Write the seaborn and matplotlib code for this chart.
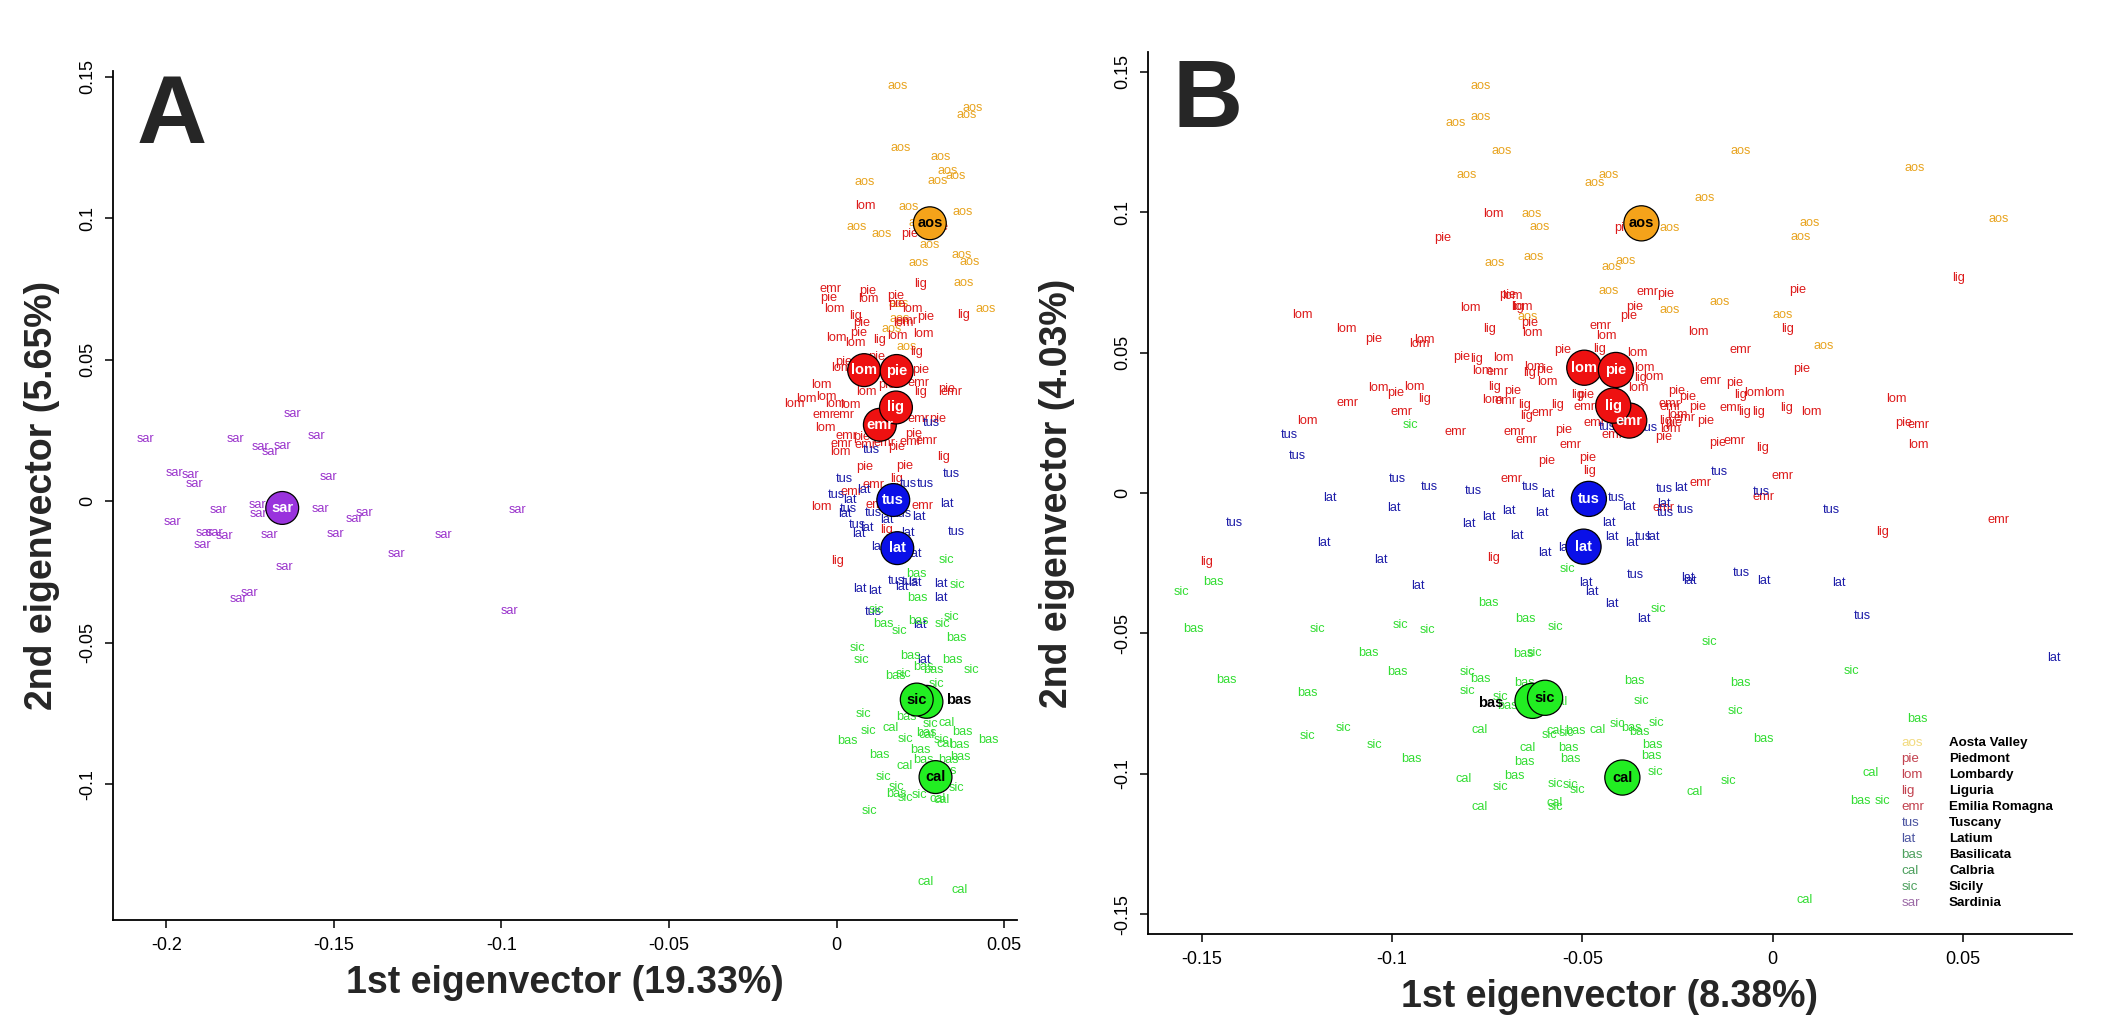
import pandas as pd
import matplotlib
matplotlib.use("Agg")
import matplotlib.pyplot as plt
from matplotlib import font_manager
import seaborn as sns

# region codes, legend names
codes = ["aos", "pie", "lom", "lig", "emr", "tus", "lat", "bas", "cal", "sic", "sar"]
names = ["Aosta Valley", "Piedmont", "Lombardy", "Liguria", "Emilia Romagna", "Tuscany",
         "Latium", "Basilicata", "Calbria", "Sicily", "Sardinia"]

# ---- panel A: individual samples (PC1, PC2) ----
A_AOS = [(0.0181, 0.1467), (0.0405, 0.139), (0.0389, 0.1366), (0.0192, 0.1247), (0.0309, 0.1216),
         (0.0331, 0.1167), (0.0354, 0.115), (0.0301, 0.1133), (0.0085, 0.1128), (0.0216, 0.104),
         (0.0375, 0.1022), (0.0061, 0.097), (0.0135, 0.0943), (0.0278, 0.0905), (0.0246, 0.0842),
         (0.0372, 0.0869), (0.0397, 0.0846), (0.038, 0.0771), (0.0445, 0.0679), (0.0189, 0.0645),
         (0.0164, 0.061), (0.0209, 0.0543), (0.0184, 0.0696), (0.0244, 0.0982)]
A_PIE = [(0.0217, 0.0943), (0.0308, 0.097), (-0.0025, 0.0719), (0.0094, 0.0744), (0.0175, 0.0726),
         (0.0179, 0.0697), (0.0266, 0.065), (0.0076, 0.0628), (0.0067, 0.0593), (0.002, 0.0493),
         (0.0121, 0.051), (0.0252, 0.0463), (0.0328, 0.0398), (0.0149, 0.041), (0.0075, 0.0227),
         (0.0229, 0.0237), (0.0303, 0.0289), (0.0179, 0.0192), (0.0083, 0.0121), (0.0204, 0.0124)]
A_LOM = [(0.0085, 0.1044), (0.0094, 0.0715), (0.0225, 0.068), (-0.0008, 0.068), (0.0, 0.0575),
         (0.0055, 0.0558), (0.0181, 0.0585), (0.026, 0.059), (0.0015, 0.047), (-0.0045, 0.041),
         (-0.003, 0.0369), (0.009, 0.0387), (0.0199, 0.0628), (-0.0089, 0.036), (-0.0005, 0.0345),
         (0.004, 0.034), (-0.0035, 0.026), (0.001, 0.0174), (-0.0045, -0.0022), (-0.0125, 0.0345)]
A_LIG = [(0.025, 0.0768), (0.0056, 0.0655), (0.0378, 0.0657), (0.0127, 0.0569), (0.0239, 0.0528),
         (0.0249, 0.0387), (0.032, 0.0157), (0.018, 0.008), (0.0149, -0.0103), (0.0002, -0.0212)]
A_EMR = [(-0.0018, 0.075), (0.0209, 0.0635), (0.0244, 0.0416), (0.0343, 0.0387), (0.002, 0.0304),
         (0.003, 0.0231), (0.0015, 0.0202), (0.0085, 0.0198), (0.0144, 0.0204), (0.0219, 0.021),
         (0.0268, 0.0213), (0.0243, 0.0289), (0.0109, 0.0057), (0.0045, 0.0033), (0.0257, -0.0018),
         (0.0119, -0.0014), (-0.004, 0.0305)]
A_TUS = [(0.0283, 0.0277), (0.0104, 0.018), (0.0341, 0.0095), (0.0022, 0.0078), (0.0266, 0.0062),
         (0.0214, 0.0062), (0.0, 0.0021), (0.0035, -0.0028), (0.0109, -0.0041), (0.0199, -0.0044),
         (0.0062, -0.0085), (0.0358, -0.011), (0.0179, -0.0283), (0.0219, -0.0285), (0.0109, -0.0391)]
A_LAT = [(0.008, 0.0041), (0.004, 0.0004), (0.0328, -0.0011), (0.0025, -0.0044), (0.0149, -0.0065),
         (0.0244, -0.0055), (0.0089, -0.0096), (0.0065, -0.0117), (0.0214, -0.0112), (0.0124, -0.0161),
         (0.0234, -0.0185), (0.0234, -0.0289), (0.0194, -0.0305), (0.007, -0.0311), (0.0115, -0.0317),
         (0.0311, -0.0291), (0.0311, -0.0342), (0.0249, -0.0438), (0.026, -0.056)]
A_BAS = [(0.0239, -0.0256), (0.0242, -0.0342), (0.0139, -0.0435), (0.0244, -0.0424), (0.0356, -0.0483),
         (0.0219, -0.0547), (0.0345, -0.056), (0.0259, -0.0586), (0.0288, -0.0598), (0.0174, -0.0619),
         (0.0209, -0.0763), (0.0376, -0.0816), (0.0452, -0.0845), (0.0032, -0.0847), (0.0267, -0.082),
         (0.0366, -0.086), (0.0249, -0.0881), (0.0127, -0.0897), (0.0259, -0.0914), (0.0333, -0.0914),
         (0.0368, -0.0904), (0.0328, -0.0954), (0.0179, -0.1034)]
A_CAL = [(0.0161, -0.0801), (0.0328, -0.0784), (0.0267, -0.0827), (0.0322, -0.0857), (0.0202, -0.0937),
         (0.03, -0.1051), (0.0313, -0.1057), (0.0265, -0.1344), (0.0368, -0.1375)]
A_SIC = [(0.0328, -0.0209), (0.036, -0.0295), (0.0119, -0.0385), (0.0343, -0.0411), (0.0316, -0.0433),
         (0.0187, -0.0459), (0.0062, -0.0519), (0.0075, -0.056), (0.0403, -0.0598), (0.0199, -0.0609),
         (0.0298, -0.0645), (0.008, -0.0753), (0.0094, -0.0813), (0.028, -0.0789), (0.0206, -0.0841),
         (0.0313, -0.0845), (0.0139, -0.0975), (0.0179, -0.101), (0.0204, -0.1048), (0.0246, -0.1037),
         (0.0358, -0.1013), (0.0097, -0.1095)]
A_SAR = [(-0.1623, 0.0308), (-0.2061, 0.0219), (-0.1794, 0.0219), (-0.1551, 0.0231), (-0.1718, 0.0192),
         (-0.1653, 0.0196), (-0.169, 0.0172), (-0.1516, 0.0085), (-0.1977, 0.01), (-0.1929, 0.0092),
         (-0.1916, 0.006), (-0.1845, -0.0032), (-0.1727, -0.0014), (-0.1725, -0.0046), (-0.154, -0.0028),
         (-0.1409, -0.0041), (-0.144, -0.0062), (-0.0953, -0.0032), (-0.1982, -0.0075), (-0.1885, -0.0114),
         (-0.1855, -0.0114), (-0.1825, -0.0124), (-0.1892, -0.0156), (-0.1691, -0.012), (-0.1495, -0.0117),
         (-0.1172, -0.012), (-0.1314, -0.0187), (-0.1648, -0.0232), (-0.1752, -0.0323), (-0.1785, -0.0347),
         (-0.0977, -0.0389)]

# panel A: region centroids (order = drawing order)
a_cent_code = ["aos", "emr", "lom", "pie", "lig", "tus", "lat", "bas", "sic", "cal", "sar"]
a_cent_x = [0.0278, 0.0129, 0.0082, 0.0179, 0.0177, 0.0169, 0.0181, 0.0268, 0.0239, 0.0295, -0.1654]
a_cent_y = [0.0982, 0.027, 0.0463, 0.046, 0.0331, 0.0004, -0.0166, -0.0709, -0.0701, -0.0975, -0.0024]
a_bas_label = (0.0363, -0.0704)

# ---- panel B: individual samples ----
B_AOS = [(-0.0766, 0.1449), (-0.0832, 0.1316), (-0.0768, 0.1337), (-0.0712, 0.1218), (-0.0085, 0.1218),
         (0.0372, 0.1156), (0.0594, 0.0974), (-0.0804, 0.1132), (-0.0432, 0.1132), (-0.0469, 0.1105),
         (-0.0178, 0.1051), (-0.0633, 0.0992), (-0.0612, 0.0948), (-0.0272, 0.0945), (0.0097, 0.096),
         (0.0074, 0.0913), (-0.073, 0.082), (-0.0627, 0.0841), (-0.0423, 0.0806), (-0.0386, 0.0827),
         (-0.0432, 0.0719), (-0.0139, 0.0681), (-0.0272, 0.0651), (-0.0644, 0.0628), (0.0026, 0.0634),
         (0.0135, 0.0525)]
B_PIE = [(-0.0866, 0.0909), (-0.0395, 0.0942), (-0.0281, 0.0708), (0.0065, 0.0723), (-0.0697, 0.0705),
         (-0.0362, 0.0663), (-0.0377, 0.0631), (-0.0638, 0.0604), (-0.0817, 0.0485), (-0.0552, 0.0509),
         (-0.06, 0.0438), (0.0077, 0.0441), (-0.0101, 0.0393), (-0.0252, 0.0363), (-0.0224, 0.0341),
         (-0.0196, 0.0307), (-0.0259, 0.0248), (-0.0176, 0.0258), (-0.0287, 0.0201), (-0.0145, 0.0177),
         (-0.099, 0.0355), (-0.0682, 0.0364), (-0.0491, 0.0349), (-0.0548, 0.0224), (-0.0593, 0.0114),
         (-0.0487, 0.0126), (-0.1047, 0.0548), (0.0343, 0.0248)]
B_LOM = [(-0.0733, 0.0992), (-0.0684, 0.0701), (-0.0793, 0.0657), (-0.0657, 0.0661), (-0.0631, 0.0571),
         (-0.0438, 0.056), (-0.0195, 0.0574), (-0.0914, 0.0545), (-0.0929, 0.0529), (-0.0708, 0.0482),
         (-0.0355, 0.05), (-0.0627, 0.045), (-0.0762, 0.0434), (-0.0592, 0.0396), (-0.0338, 0.0444),
         (-0.0313, 0.0414), (-0.0353, 0.0375), (-0.0049, 0.0357), (0.0004, 0.0357), (0.0102, 0.029),
         (-0.025, 0.0278), (-0.0268, 0.0227), (-0.0942, 0.0379), (-0.1035, 0.0375), (-0.0736, 0.0331),
         (-0.1236, 0.0634), (-0.1119, 0.0584), (-0.1223, 0.0257), (0.0326, 0.0335), (0.0382, 0.0171)]
B_LIG = [(-0.067, 0.0663), (-0.0743, 0.0584), (0.004, 0.0584), (-0.0777, 0.0477), (-0.0456, 0.0513),
         (-0.064, 0.0428), (-0.0346, 0.0408), (-0.0084, 0.0348), (0.0037, 0.0301), (-0.0075, 0.029),
         (-0.0036, 0.029), (-0.0281, 0.0258), (-0.0028, 0.0161), (-0.0914, 0.0333), (-0.0732, 0.0379),
         (-0.0653, 0.0313), (-0.0647, 0.0275), (-0.0565, 0.0313), (-0.0513, 0.0349), (-0.0482, 0.008),
         (0.0487, 0.0764), (-0.1486, -0.0244), (-0.0733, -0.0233), (0.0289, -0.0139)]
B_EMR = [(-0.0329, 0.0717), (-0.0453, 0.0596), (-0.0084, 0.0509), (-0.0723, 0.0432), (-0.0164, 0.04),
         (-0.011, 0.0301), (-0.0272, 0.0316), (-0.0268, 0.0307), (-0.0231, 0.0266), (-0.0101, 0.0185),
         (0.0026, 0.0061), (-0.0189, 0.0037), (-0.0974, 0.029), (-0.0701, 0.0329), (-0.0605, 0.0284),
         (-0.0495, 0.0307), (-0.0832, 0.0218), (-0.0679, 0.0218), (-0.0647, 0.0189), (-0.053, 0.0171),
         (-0.0469, 0.0248), (-0.0421, 0.0206), (-0.0686, 0.0049), (-0.0024, -0.0015), (-0.1116, 0.0319),
         (0.0382, 0.0242), (-0.0288, -0.0055), (0.0594, -0.0096)]
B_TUS = [(-0.0434, 0.0236), (-0.0325, 0.0233), (-0.0987, 0.0049), (-0.0901, 0.0023), (-0.0786, 0.0008),
         (-0.0636, 0.0023), (-0.0139, 0.0076), (-0.0285, 0.0013), (-0.003, 0.0005), (-0.1271, 0.0206),
         (-0.125, 0.0132), (-0.0411, -0.0019), (-0.0283, -0.0072), (-0.0229, -0.0061), (-0.1413, -0.0108),
         (-0.0341, -0.0155), (-0.0361, -0.0292), (-0.0082, -0.0286), (0.0155, -0.0062), (0.0235, -0.0437)]
B_LAT = [(-0.059, -0.0005), (-0.0241, 0.0019), (-0.1164, -0.0019), (-0.0377, -0.0049), (-0.0285, -0.0039),
         (-0.0996, -0.0052), (-0.0692, -0.0063), (-0.0746, -0.0087), (-0.0797, -0.0112), (-0.0606, -0.0072),
         (-0.0431, -0.0106), (-0.1178, -0.0177), (-0.0672, -0.0152), (-0.0422, -0.0155), (-0.0371, -0.0177),
         (-0.0315, -0.0155), (-0.0545, -0.0197), (-0.0599, -0.0215), (-0.103, -0.0239), (-0.0931, -0.0331),
         (-0.0492, -0.0319), (-0.0476, -0.0351), (-0.0224, -0.0301), (-0.0218, -0.0312), (-0.0023, -0.0312),
         (-0.0422, -0.0395), (-0.0338, -0.045), (0.0738, -0.0588), (0.0174, -0.032)]
B_BAS = [(-0.147, -0.0316), (-0.0747, -0.039), (-0.065, -0.0449), (-0.1521, -0.0484), (-0.1062, -0.0568),
         (-0.0656, -0.0574), (-0.1435, -0.0666), (-0.0986, -0.0638), (-0.0768, -0.0662), (-0.1221, -0.0713),
         (-0.0363, -0.0668), (-0.0084, -0.0675), (-0.0697, -0.0758), (-0.0652, -0.0678), (-0.095, -0.0947),
         (-0.0518, -0.0846), (-0.037, -0.0838), (-0.0349, -0.085), (-0.0025, -0.0877), (-0.0538, -0.0907),
         (-0.0652, -0.0956), (-0.0532, -0.0948), (-0.0317, -0.0897), (-0.032, -0.0936), (-0.0679, -0.1006),
         (0.0379, -0.0803), (0.0231, -0.1095)]
B_CAL = [(-0.0561, -0.0743), (-0.0769, -0.0844), (-0.0572, -0.0846), (-0.0459, -0.0844), (-0.0645, -0.0907),
         (-0.0811, -0.1019), (-0.0206, -0.1063), (-0.077, -0.1117), (-0.0574, -0.1102), (0.0257, -0.0998),
         (0.0084, -0.145)]
B_SIC = [(-0.0952, 0.0242), (-0.0538, -0.0272), (-0.1553, -0.0351), (-0.057, -0.0476), (-0.0301, -0.0413),
         (-0.1196, -0.0484), (-0.0977, -0.047), (-0.0907, -0.0488), (-0.0167, -0.0532), (-0.0626, -0.0571),
         (-0.0803, -0.0639), (-0.0803, -0.0704), (-0.0345, -0.074), (-0.0098, -0.0775), (-0.0715, -0.0725),
         (-0.1127, -0.0838), (-0.1223, -0.0865), (-0.1046, -0.0897), (-0.0586, -0.0862), (-0.0543, -0.0853),
         (-0.0409, -0.0824), (-0.0306, -0.0818), (-0.0309, -0.0992), (-0.0715, -0.1045), (-0.0572, -0.1036),
         (-0.0531, -0.1039), (-0.0513, -0.1057), (-0.0117, -0.1025), (-0.057, -0.1119), (0.0206, -0.0633),
         (0.0288, -0.1095)]
B_SAR = []

b_cent_code = ["aos", "emr", "lom", "pie", "lig", "tus", "lat", "bas", "sic", "cal"]
b_cent_x = [-0.0345, -0.0377, -0.0495, -0.0412, -0.0419, -0.0483, -0.0497, -0.0631, -0.0598, -0.0395]
b_cent_y = [0.096, 0.0258, 0.0446, 0.0438, 0.0311, -0.0021, -0.0191, -0.074, -0.0729, -0.1013]
b_bas_label = (-0.074, -0.0746)

pct_a = ("19.33%", "5.65%")
pct_b = ("8.38%", "4.03%")

# colours
red, blue, green = "#DD1A1A", "#1C1CA8", "#33DD33"
label_col = {"aos": "#E8A420", "pie": red, "lom": red, "lig": red, "emr": red,
             "tus": blue, "lat": blue, "bas": green, "cal": green, "sic": green, "sar": "#9A33CC"}
circle_col = {"aos": "#F5A31A", "pie": "#EE1111", "lom": "#EE1111", "lig": "#EE1111", "emr": "#EE1111",
              "tus": "#0A10E8", "lat": "#0A10E8", "bas": "#22EE22", "cal": "#22EE22", "sic": "#22EE22",
              "sar": "#9933DD"}
circle_txt = {c: ("black" if c in ("aos", "bas", "cal", "sic") else "white") for c in codes}
legend_col = {"aos": "#F2DA7E", "pie": "#C2424F", "lom": "#C2424F", "lig": "#C2424F", "emr": "#C2424F",
              "tus": "#4B54A0", "lat": "#4B54A0", "bas": "#4DA05E", "cal": "#4DA05E", "sic": "#4DA05E",
              "sar": "#9C6BA6"}

sns.set_style("ticks")
plt.rcParams["font.family"] = ["Liberation Sans", "DejaVu Sans"]

avail = {f.name for f in font_manager.fontManager.ttflist}
narrow = "Liberation Sans Narrow" in avail
axis_family = ["Liberation Sans Narrow", "Liberation Sans", "DejaVu Sans"] if narrow else ["Liberation Sans", "DejaVu Sans"]
tick_fs = 16 if narrow else 13
lab_fs = 33 if narrow else 27


def to_frame(groups):
    rows = []
    for code, pts in groups:
        for x, y in pts:
            rows.append((code, x, y))
    return pd.DataFrame(rows, columns=["code", "x", "y"])


def draw_panel(ax, df, cent, bas_label, pct, letter, xlim, ylim, xticks, yticks, csize, ylabpad):
    for r in df.itertuples():
        ax.text(r.x, r.y, r.code, color=label_col[r.code], fontsize=9.2,
                ha="center", va="center", zorder=2)
    sns.scatterplot(data=cent, x="x", y="y", hue="code", palette=circle_col, s=csize,
                    edgecolor="black", linewidth=0.9, legend=False, ax=ax, zorder=3)
    for r in cent.itertuples():
        if r.code == "bas":
            continue
        ax.text(r.x, r.y, r.code, color=circle_txt[r.code], fontsize=10.5, weight="bold",
                ha="center", va="center", zorder=4)
    ax.text(bas_label[0], bas_label[1], "bas", color="black", fontsize=10.5, weight="bold",
            ha="center", va="center", zorder=4)

    ax.set_xlim(*xlim)
    ax.set_ylim(*ylim)
    ax.set_xticks(xticks)
    ax.set_xticklabels([("%g" % t) for t in xticks])
    ax.set_yticks(yticks)
    ax.set_yticklabels([("%g" % t) for t in yticks], rotation=90, va="center")
    for lab in ax.get_xticklabels() + ax.get_yticklabels():
        lab.set_family(axis_family)
        lab.set_fontsize(tick_fs)
    ax.tick_params(direction="out", length=6, width=1.1, colors="black", pad=6)
    sns.despine(ax=ax)
    for s in ("left", "bottom"):
        ax.spines[s].set_linewidth(1.3)
        ax.spines[s].set_color("black")
    ax.set_xlabel("1st eigenvector (%s)" % pct[0], family=axis_family, fontsize=lab_fs,
                  weight="bold", labelpad=8)
    ax.set_ylabel("2nd eigenvector (%s)" % pct[1], family=axis_family, fontsize=lab_fs,
                  weight="bold", labelpad=ylabpad)
    ax.text(0.026, 0.915, letter, transform=ax.transAxes, fontsize=70, weight="bold",
            ha="left", va="baseline", zorder=5)


fig = plt.figure(figsize=(21.16, 10.26), dpi=100)
axA = fig.add_axes([113.3 / 2116, 1 - 920 / 1026, 904 / 2116, 849 / 1026])
axB = fig.add_axes([1148 / 2116, 1 - 934 / 1026, 923.6 / 2116, 882 / 1026])

df_a = to_frame([("aos", A_AOS), ("pie", A_PIE), ("lom", A_LOM), ("lig", A_LIG), ("emr", A_EMR),
                 ("tus", A_TUS), ("lat", A_LAT), ("bas", A_BAS), ("cal", A_CAL), ("sic", A_SIC),
                 ("sar", A_SAR)])
df_b = to_frame([("aos", B_AOS), ("pie", B_PIE), ("lom", B_LOM), ("lig", B_LIG), ("emr", B_EMR),
                 ("tus", B_TUS), ("lat", B_LAT), ("bas", B_BAS), ("cal", B_CAL), ("sic", B_SIC),
                 ("sar", B_SAR)])
cent_a = pd.DataFrame({"code": a_cent_code, "x": a_cent_x, "y": a_cent_y})
cent_b = pd.DataFrame({"code": b_cent_code, "x": b_cent_x, "y": b_cent_y})

draw_panel(axA, df_a, cent_a, a_bas_label, pct_a, "A", (-0.2158, 0.0539), (-0.148, 0.152),
           [-0.2, -0.15, -0.1, -0.05, 0, 0.05], [-0.1, -0.05, 0, 0.05, 0.1, 0.15], 560, 14)
draw_panel(axB, df_b, cent_b, b_bas_label, pct_b, "B", (-0.1641, 0.0785), (-0.157, 0.157),
           [-0.15, -0.1, -0.05, 0, 0.05], [-0.15, -0.1, -0.05, 0, 0.05, 0.1, 0.15], 640, 28)

# legend of panel B
for i, (c, n) in enumerate(zip(codes, names)):
    yy = -0.0889 - i * 0.0057
    axB.text(0.0338, yy, c, color=legend_col[c], fontsize=9.6, ha="left", va="center")
    axB.text(0.0463, yy, n, color="black", fontsize=9.6, weight="bold", ha="left", va="center")

fig.savefig("out.png", dpi=100)
